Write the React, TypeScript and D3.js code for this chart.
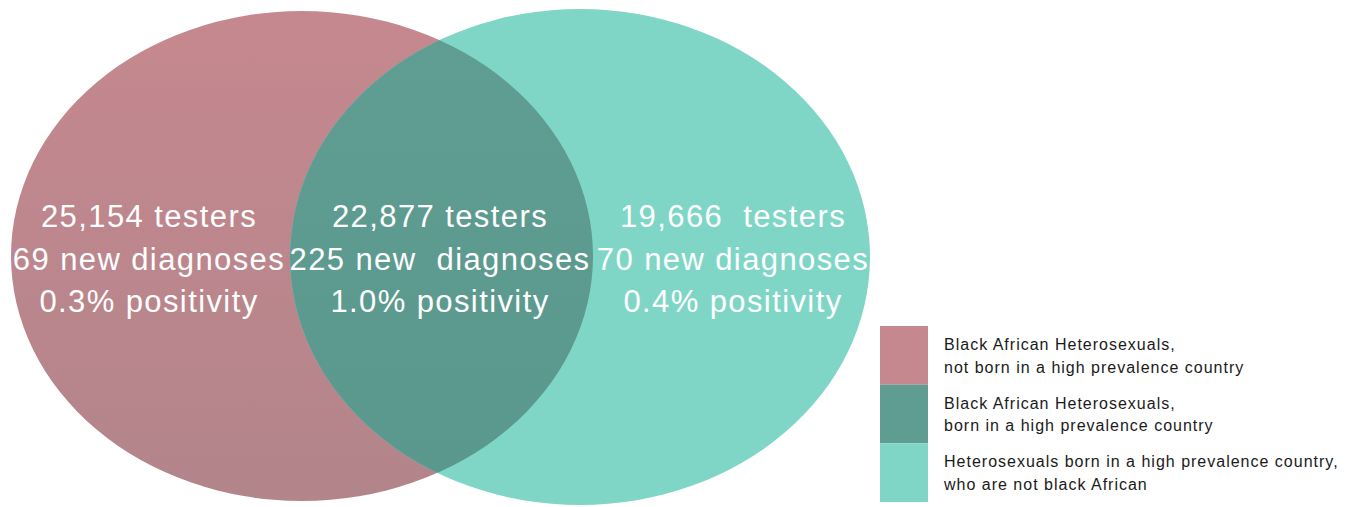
import React from "react";
import * as d3 from "d3";

const groupNames = [
  ["Black African Heterosexuals,", "not born in a high prevalence country"],
  ["Black African Heterosexuals,", "born in a high prevalence country"],
  ["Heterosexuals born in a high prevalence country,", "who are not black African"],
];
const testers = [25154, 22877, 19666];
const diagnoses = [69, 225, 70];
const positivity = [0.3, 1.0, 0.4];
const testerGap = [" ", " ", "  "];
const diagGap = [" ", "  ", " "];
const colors = ["#C4888E", "#5F9C91", "#7FD6C6"];

const W = 1354;
const H = 507;

export default function App() {
  const fmt = d3.format(",");
  const pct = d3.format(".1f");
  const xPos = d3.scalePoint<number>().domain([0, 1, 2]).range([149, 733]);
  const yLine = d3.scaleLinear().domain([0, 2]).range([227, 312]);
  const legY = d3.scaleLinear().domain([0, 3]).range([326, 502]);

  const left = { cx: 302, cy: 256, rx: 291, ry: 245 };
  const right = { cx: 580, cy: 257, rx: 290, ry: 248 };

  return (
    <svg
      width={W}
      height={H}
      style={{ position: "fixed", left: 0, top: 0, display: "block", background: "#fff" }}
      fontFamily="'Liberation Sans', Arial, sans-serif"
    >
      <defs>
        <linearGradient id="gl" x1="0" y1="0" x2="0" y2="1">
          <stop offset="0" stopColor="#C6888F" />
          <stop offset="1" stopColor="#B2858B" />
        </linearGradient>
        <linearGradient id="gm" x1="0" y1="0" x2="0" y2="1">
          <stop offset="0" stopColor="#609D92" />
          <stop offset="1" stopColor="#5A978C" />
        </linearGradient>
        <clipPath id="clipL">
          <ellipse cx={left.cx} cy={left.cy} rx={left.rx} ry={left.ry} />
        </clipPath>
      </defs>
      <ellipse cx={left.cx} cy={left.cy} rx={left.rx} ry={left.ry} fill="url(#gl)" />
      <ellipse cx={right.cx} cy={right.cy} rx={right.rx} ry={right.ry} fill={colors[2]} />
      <ellipse
        cx={right.cx}
        cy={right.cy}
        rx={right.rx}
        ry={right.ry}
        fill="url(#gm)"
        clipPath="url(#clipL)"
      />
      {testers.map((t, i) => {
        const lines = [
          `${fmt(t)}${testerGap[i]}testers`,
          `${diagnoses[i]} new${diagGap[i]}diagnoses`,
          `${pct(positivity[i])}% positivity`,
        ];
        const x = i === 1 ? 440 : xPos(i)!;
        return (
          <g key={i}>
            {lines.map((s, j) => (
              <text
                key={j}
                x={x}
                y={yLine(j)}
                textAnchor="middle"
                fill="#fff"
                fontSize={31}
                letterSpacing={1.4}
                style={{ whiteSpace: "pre" }}
              >
                {s}
              </text>
            ))}
          </g>
        );
      })}
      {groupNames.map((g, i) => (
        <g key={i}>
          <rect
            x={880}
            y={legY(i)}
            width={48}
            height={legY(i + 1) - legY(i)}
            fill={colors[i]}
          />
          {g.map((s, j) => (
            <text
              key={j}
              x={944}
              y={legY(i) + 24 + j * 22.5}
              fontSize={16}
              letterSpacing={1}
              fill="#1a1a1a"
            >
              {s}
            </text>
          ))}
        </g>
      ))}
    </svg>
  );
}
